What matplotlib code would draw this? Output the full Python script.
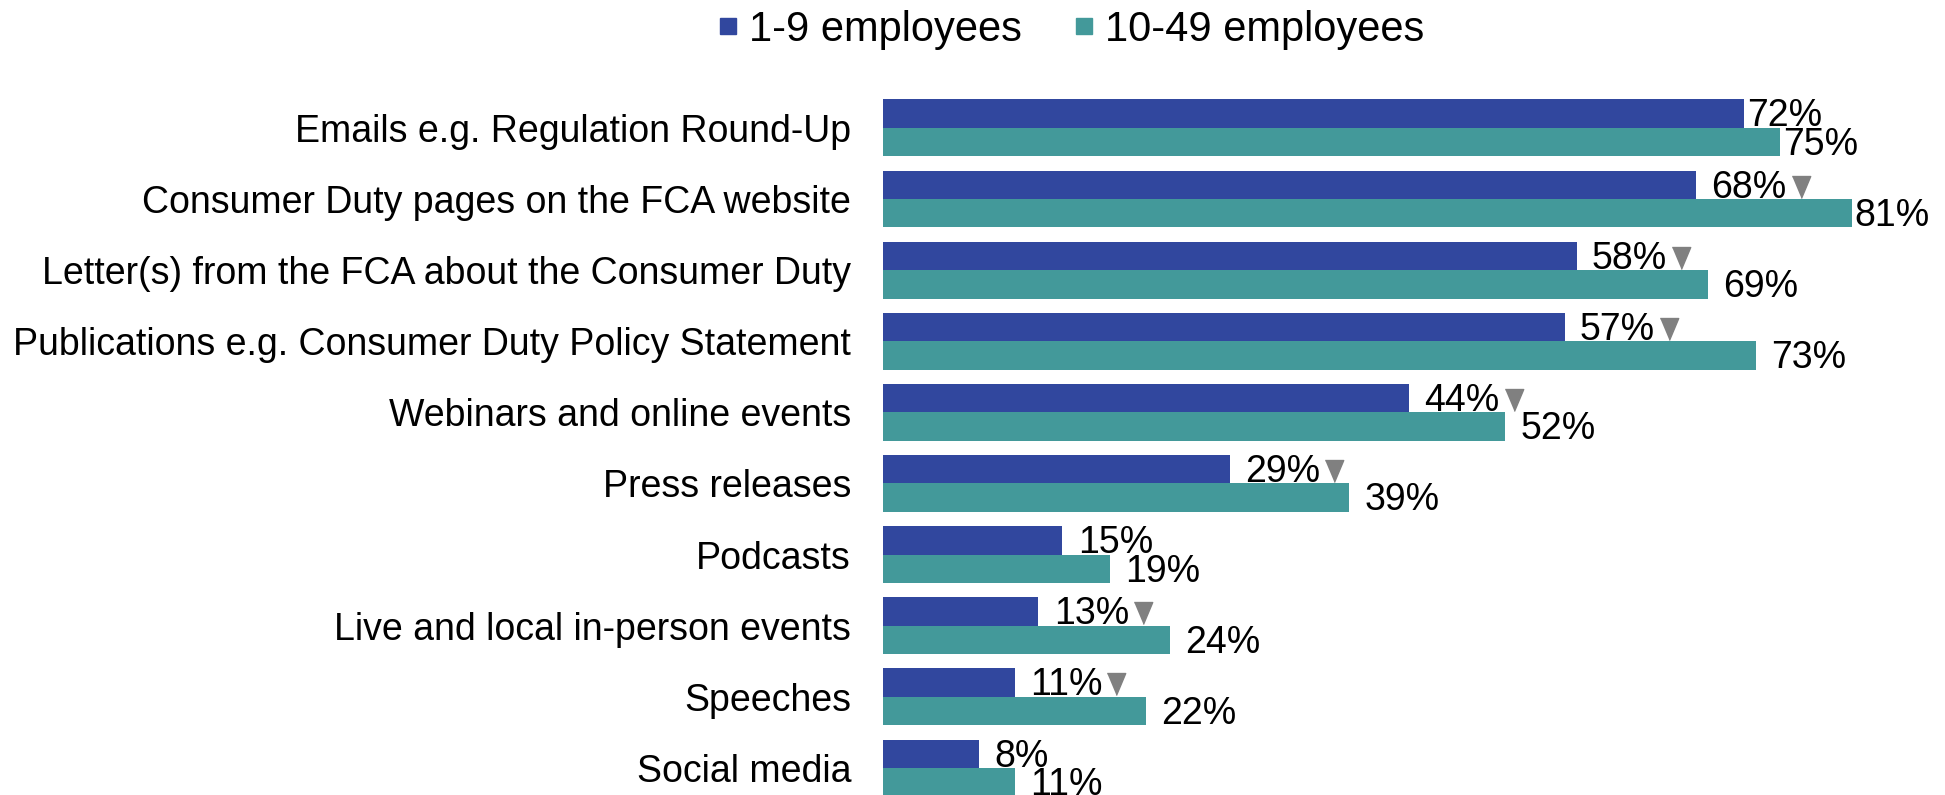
import matplotlib.pyplot as plt
import numpy as np
from matplotlib.lines import Line2D

plt.rcParams['font.family'] = ['Liberation Sans', 'DejaVu Sans']

# Daten
kategorien = [
    'Emails e.g. Regulation Round-Up',
    'Consumer Duty pages on the FCA website',
    'Letter(s) from the FCA about the Consumer Duty',
    'Publications e.g. Consumer Duty Policy Statement',
    'Webinars and online events',
    'Press releases',
    'Podcasts',
    'Live and local in-person events',
    'Speeches',
    'Social media',
]
klein = [72, 68, 58, 57, 44, 29, 15, 13, 11, 8]      # 1-9 employees
mittel = [75, 81, 69, 73, 52, 39, 19, 24, 22, 11]    # 10-49 employees
signifikant = [False, True, True, True, True, True, False, True, True, False]

blau = '#31479E'
tuerkis = '#43999A'

fig = plt.figure(figsize=(19.45, 7.95), dpi=100)
ax = fig.add_axes([883 / 1945, 0, 1 - 883 / 1945, 705 / 795])

y = np.arange(len(kategorien))
h = 0.4
ax.barh(y - h / 2, klein, height=h, color=blau)
ax.barh(y + h / 2, mittel, height=h, color=tuerkis)

ax.set_xlim(0, 88.8)
ax.set_ylim(9.38, -0.532)
ax.set_yticks(y)
ax.set_yticklabels(kategorien, fontsize=27)
ax.tick_params(axis='y', length=0, pad=23)
ax.set_xticks([])
for s in ax.spines.values():
    s.set_visible(False)

# Werte neben die Balken schreiben
eng = {(0, 0), (0, 1), (1, 1)}
labels_klein = []
for i in range(len(kategorien)):
    for j, werte in enumerate([klein, mittel]):
        dx = 2 if (i, j) in eng else 11
        yy = y[i] - h / 2 if j == 0 else y[i] + h / 2
        t = ax.annotate(f'{werte[i]}%', (werte[i], yy), xytext=(dx, -2),
                        textcoords='offset points', va='center', ha='left',
                        fontsize=27, annotation_clip=False)
        if j == 0:
            labels_klein.append(t)

# Dreiecke hinter den signifikanten Werten
fig.canvas.draw()
renderer = fig.canvas.get_renderer()
inv = ax.transData.inverted()
dreieck = [(-0.42, 0.5), (0.42, 0.5), (0, -0.5)]
for i, t in enumerate(labels_klein):
    if not signifikant[i]:
        continue
    bb = t.get_window_extent(renderer)
    ytop = ax.transData.transform((0, y[i] - h))[1]
    px, py = inv.transform((bb.x1 + 14, ytop - 16))
    ax.plot(px, py, marker=dreieck, markersize=15.8, color='#808080',
            linestyle='none', clip_on=False)

# Legende
griffe = [
    Line2D([], [], marker='s', linestyle='none', markersize=12, color=blau),
    Line2D([], [], marker='s', linestyle='none', markersize=12, color=tuerkis),
]
fig.legend(griffe, ['1-9 employees', '10-49 employees'], loc='center',
           bbox_to_anchor=(1068 / 1945, 1 - 30 / 795), ncol=2, frameon=False,
           fontsize=30, handletextpad=0.1, columnspacing=1.1, handlelength=0.8)

fig.savefig('out.png', dpi=100)
